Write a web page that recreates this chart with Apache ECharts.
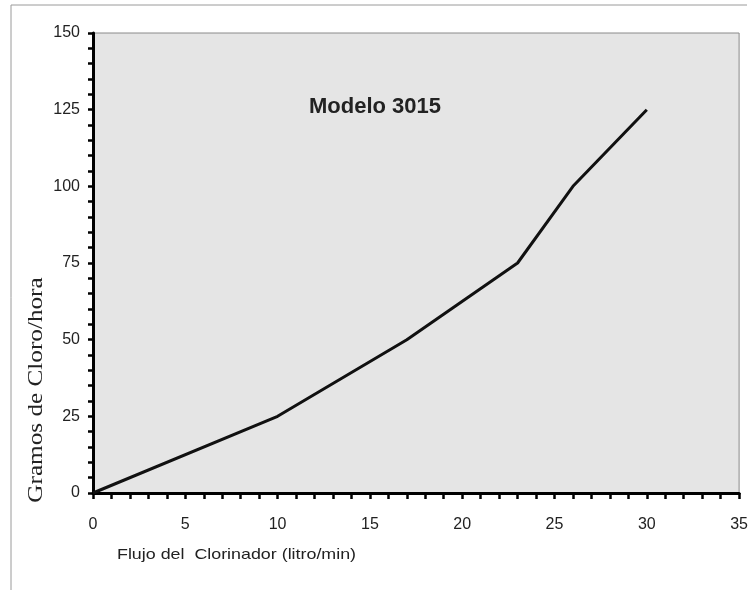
<!DOCTYPE html>
<html>
<head>
<meta charset="utf-8">
<script src="https://cdn.jsdelivr.net/npm/echarts@6/dist/echarts.min.js"></script>
<style>
  html, body { margin: 0; padding: 0; background: #fff; }
  #chart { width: 751px; height: 592px; }
</style>
</head>
<body>
<div id="chart"></div>
<script>
// Chlorinator flow (litre/min) vs grams of chlorine per hour, model 3015
const flow = [0, 10, 17, 23, 26, 30];
const chlorine = [0, 25, 50, 75, 100, 125];
const chartTitle = 'Modelo 3015';
const xName = 'Flujo del  Clorinador (litro/min)';
const yName = 'Gramos de Cloro/hora';

const chart = echarts.init(document.getElementById('chart'));
chart.setOption({
  animation: false,
  backgroundColor: '#ffffff',
  title: {
    text: chartTitle,
    left: 370, top: 91, textAlign: 'center',
    textStyle: { fontFamily: 'Liberation Sans, Arial', fontSize: 22, fontWeight: 'bold', color: '#222' }
  },
  grid: {
    left: 93, right: 6, top: 33, bottom: 99,
    show: true, backgroundColor: '#e5e5e5', borderColor: '#8a8a8a', borderWidth: 1
  },
  xAxis: {
    type: 'value', min: 0, max: 35, interval: 5,
    axisLine: { show: true, onZero: false, lineStyle: { color: '#000', width: 3 } },
    axisTick: { show: true, length: 6, lineStyle: { color: '#000', width: 2.5 } },
    minorTick: { show: true, splitNumber: 5, length: 6, lineStyle: { color: '#000', width: 2.5 } },
    splitLine: { show: false },
    axisLabel: { margin: 24, fontFamily: 'Liberation Sans, Arial', fontSize: 16, color: '#222' }
  },
  yAxis: {
    type: 'value', min: 0, max: 150, interval: 25,
    axisLine: { show: true, lineStyle: { color: '#000', width: 3 } },
    axisTick: { show: true, length: 5, lineStyle: { color: '#000', width: 2.5 } },
    minorTick: { show: true, splitNumber: 5, length: 5, lineStyle: { color: '#000', width: 2.5 } },
    splitLine: { show: false },
    axisLabel: { margin: 13, fontFamily: 'Liberation Sans, Arial', fontSize: 16, color: '#222' }
  },
  series: [{
    type: 'line',
    data: flow.map((x, i) => [x, chlorine[i]]),
    symbol: 'none',
    lineStyle: { color: '#111', width: 3 }
  }],
  graphic: [
    { type: 'line', shape: { x1: 11, y1: 5, x2: 11, y2: 590 }, style: { stroke: '#9a9a9a', lineWidth: 1 } },
    { type: 'line', shape: { x1: 11, y1: 5, x2: 747, y2: 5 }, style: { stroke: '#9a9a9a', lineWidth: 1 } },
    {
      type: 'text', x: 117, y: 555, scaleX: 1.19,
      style: {
        text: xName, fontFamily: 'Liberation Sans, Arial', fontSize: 15, fill: '#222',
        align: 'left', verticalAlign: 'middle'
      }
    },
    {
      type: 'text', x: 36, y: 390, rotation: Math.PI / 2, scaleX: 1.2,
      style: {
        text: yName, fontFamily: 'Liberation Serif, Times New Roman', fontSize: 21, fill: '#222',
        align: 'center', verticalAlign: 'middle'
      }
    }
  ]
});
</script>
</body>
</html>
